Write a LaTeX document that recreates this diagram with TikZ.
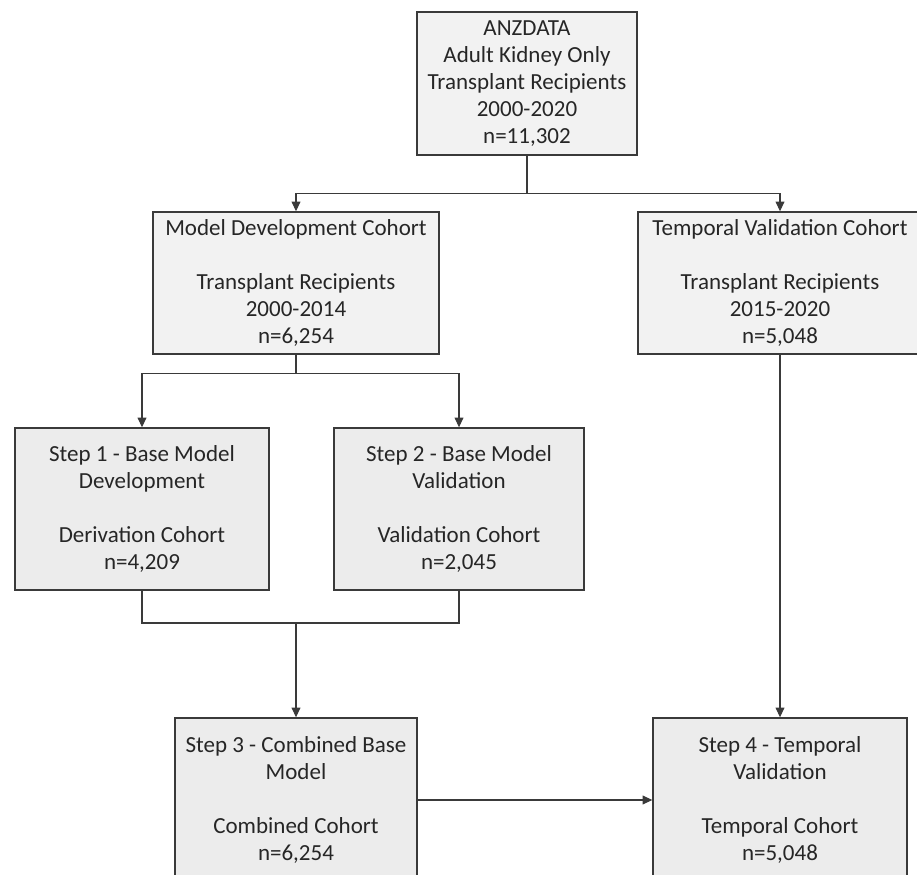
\documentclass[tikz,border=0pt]{standalone}
\usepackage{fontspec}
\setmainfont{Carlito}
\usepackage{tikz}
\usetikzlibrary{arrows.meta}
\definecolor{edgegray}{HTML}{3A3A3A}
\definecolor{lightfill}{HTML}{F2F2F2}
\definecolor{stepfill}{HTML}{ECECEC}
\tikzset{
  cohort/.style={draw=edgegray, line width=0.8pt, fill=lightfill, align=center,
    inner sep=0pt, text=black!85,
    font=\fontsize{13.1}{15.4}\selectfont},
  stepbox/.style={cohort, fill=stepfill},
  link/.style={draw=edgegray, line width=0.6pt},
  >={Triangle[length=5.5pt,width=5pt]}
}

\begin{document}
\begin{tikzpicture}[x=0.02cm, y=-0.02cm]
    \clip (0,0) rectangle (917,875);

    \node[cohort, minimum width=4.4cm, minimum height=2.86cm](anz) at (527, 83.5)
      {ANZDATA\\Adult Kidney Only\\Transplant Recipients\\2000-2020\\n=11,302};

    \node[cohort, minimum width=5.72cm, minimum height=2.84cm](dev) at (296, 283)
      {Model Development Cohort\\[15.4pt]Transplant Recipients\\2000-2014\\n=6,254};
    \node[cohort, minimum width=5.68cm, minimum height=2.84cm](tmp) at (780, 283)
      {Temporal Validation Cohort\\[15.4pt]Transplant Recipients\\2015-2020\\n=5,048};

    \node[stepbox, minimum width=5.08cm, minimum height=3.24cm](s1) at (142, 509)
      {Step 1 - Base Model\\Development\\[15.4pt]Derivation Cohort\\n=4,209};
    \node[stepbox, minimum width=5.0cm, minimum height=3.24cm](s2) at (459, 509)
      {Step 2 - Base Model\\Validation\\[15.4pt]Validation Cohort\\n=2,045};

    \node[stepbox, minimum width=4.84cm, minimum height=3.28cm](s3) at (296, 800)
      {Step 3 - Combined Base\\Model\\[15.4pt]Combined Cohort\\n=6,254};
    \node[stepbox, minimum width=5.08cm, minimum height=3.28cm](s4) at (780, 800)
      {Step 4 - Temporal\\Validation\\[15.4pt]Temporal Cohort\\n=5,048};

    \coordinate(join) at (296, 623);

    \draw[link, ->] (anz.south) -- ++(0,38) -| (dev.north);
    \draw[link, ->] (anz.south) -- ++(0,38) -| (tmp.north);
    \draw[link, ->] (dev.south) -- ++(0,19) -| (s1.north);
    \draw[link, ->] (dev.south) -- ++(0,19) -| (s2.north);

    \draw[link] (s1.south) |- (join) -| (s2.south);
    \draw[link, ->] (join) -- (s3.north);
    \draw[link, ->] (tmp) -- (s4);
    \draw[link, ->] (s3) -- (s4);
  \end{tikzpicture}
\end{document}
